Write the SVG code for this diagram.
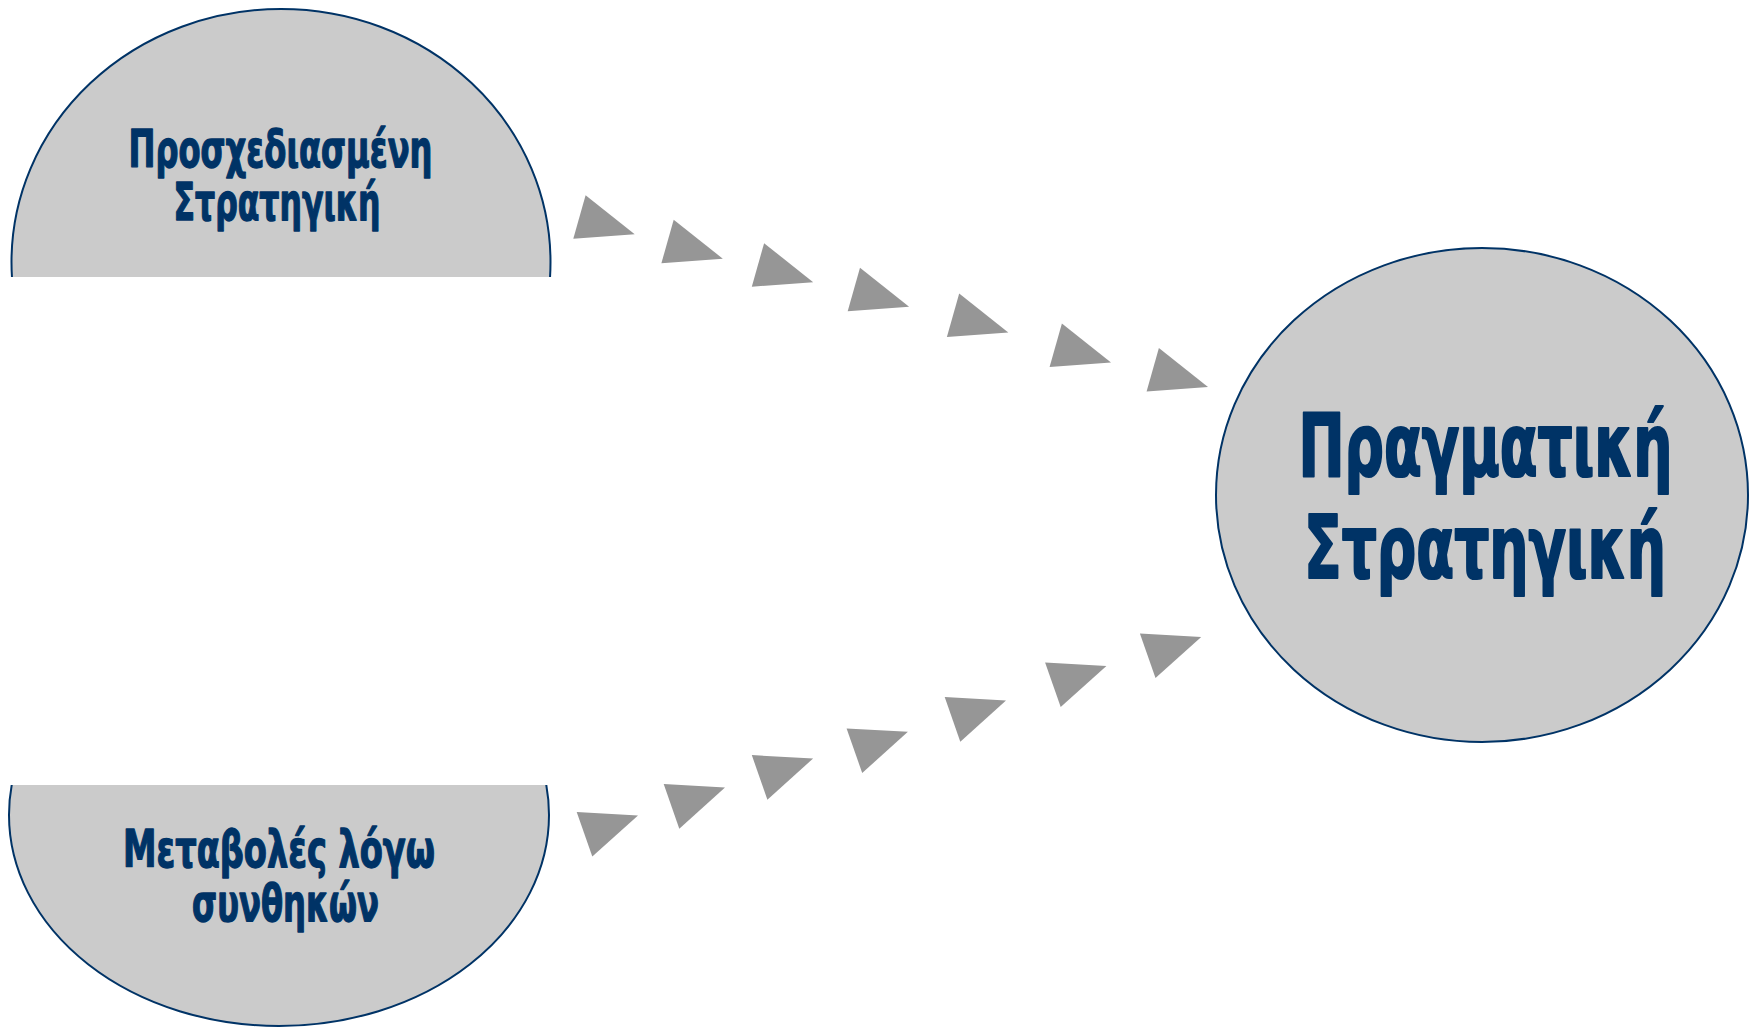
<svg xmlns="http://www.w3.org/2000/svg" xmlns:xlink="http://www.w3.org/1999/xlink" width="1749" height="1028" viewBox="0 0 1749 1028">
  <style>
    .node { fill: #cbcbcb; stroke: #003366; stroke-width: 2; }
    .lbl { fill: #003366; stroke: #003366; stroke-linejoin: round; font-family: "Liberation Sans Narrow", "DejaVu Sans Condensed", "Liberation Sans", sans-serif; font-weight: bold; }
    .sm { stroke-width: 1.3; }
    .lg { stroke-width: 2.2; }
    .arrow { fill: #969696; }
  </style>
  <defs>
    <clipPath id="clipTop"><rect x="0" y="0" width="700" height="277"/></clipPath>
    <clipPath id="clipBot"><rect x="0" y="785" width="700" height="243"/></clipPath>
    <polygon id="triTop" points="0,0 49.1,39 -12.3,43.5"/>
    <polygon id="triBot" points="0,0 61.3,3.4 15.6,44.6"/>
  </defs>
  <rect width="1749" height="1028" fill="#ffffff"/>

  <g id="node-planned">
    <ellipse class="node" cx="281" cy="262" rx="269.5" ry="253" clip-path="url(#clipTop)"/>
    <text class="lbl sm" x="128.5" y="166.7" font-size="52" textLength="304" lengthAdjust="spacingAndGlyphs">Προσχεδιασμένη</text>
    <text class="lbl sm" x="173.5" y="220" font-size="52" textLength="207" lengthAdjust="spacingAndGlyphs">Στρατηγική</text>
  </g>

  <g id="node-changes">
    <ellipse class="node" cx="279" cy="815" rx="270" ry="211" clip-path="url(#clipBot)"/>
    <text class="lbl sm" x="123" y="866.5" font-size="52" textLength="312" lengthAdjust="spacingAndGlyphs">Μεταβολές λόγω</text>
    <text class="lbl sm" x="192" y="921" font-size="52" textLength="187" lengthAdjust="spacingAndGlyphs">συνθηκών</text>
  </g>

  <g id="node-actual">
    <ellipse class="node" cx="1482" cy="495" rx="266" ry="247"/>
    <text class="lbl lg" x="1298.5" y="475.7" font-size="88" textLength="374" lengthAdjust="spacingAndGlyphs">Πραγματική</text>
    <text class="lbl lg" x="1304" y="577.7" font-size="88" textLength="362" lengthAdjust="spacingAndGlyphs">Στρατηγική</text>
  </g>

  <g id="connectors">
    <g id="flow-top" class="arrow">
      <use xlink:href="#triTop" x="585.6" y="195.2"/>
      <use xlink:href="#triTop" x="673.7" y="219.7"/>
      <use xlink:href="#triTop" x="764.1" y="243.2"/>
      <use xlink:href="#triTop" x="860" y="267.7"/>
      <use xlink:href="#triTop" x="959.2" y="293.4"/>
      <use xlink:href="#triTop" x="1061.9" y="323.5"/>
      <use xlink:href="#triTop" x="1158.9" y="348"/>
    </g>
    <g id="flow-bottom" class="arrow">
      <use xlink:href="#triBot" x="576.7" y="812"/>
      <use xlink:href="#triBot" x="663.7" y="784.1"/>
      <use xlink:href="#triBot" x="751.8" y="755.1"/>
      <use xlink:href="#triBot" x="846.6" y="728.4"/>
      <use xlink:href="#triBot" x="944.7" y="697.1"/>
      <use xlink:href="#triBot" x="1045.1" y="662.5"/>
      <use xlink:href="#triBot" x="1139.9" y="633.5"/>
    </g>
  </g>
</svg>
